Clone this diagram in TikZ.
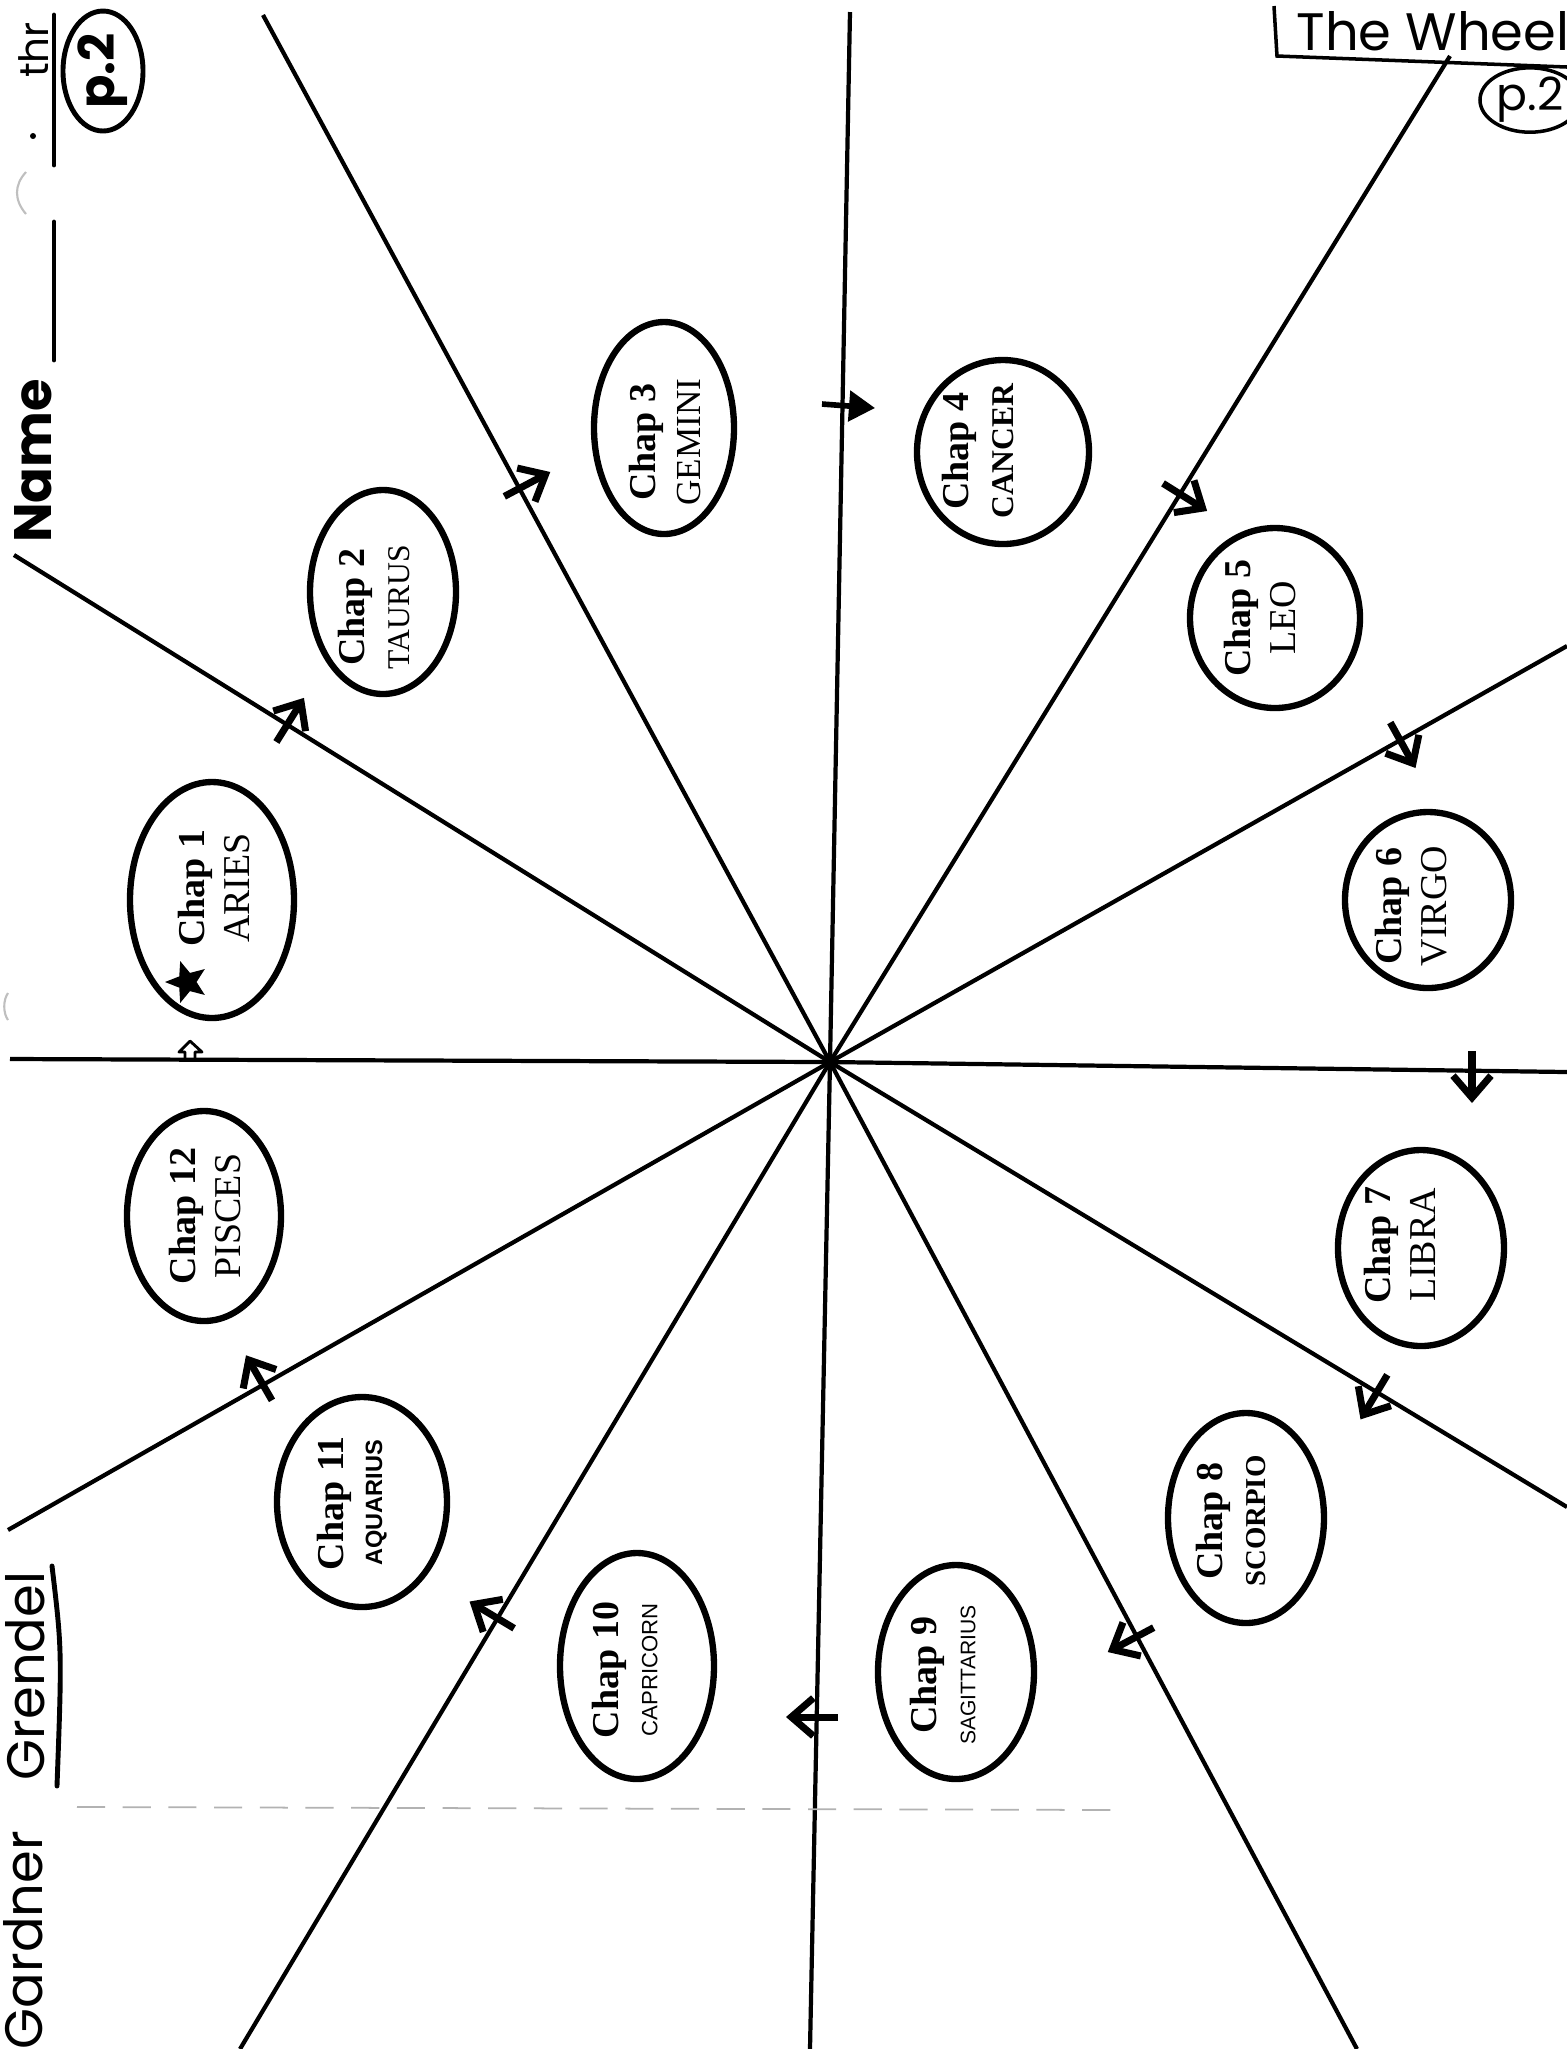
\documentclass[tikz,border=0pt]{standalone}
\usepackage{fontspec}
\setmainfont{Liberation Serif}
\newfontfamily\signsf{Liberation Sans}
\newfontfamily\hand{Poppins}
\usetikzlibrary{arrows.meta,shapes.geometric}

\begin{document}
\begin{tikzpicture}[
  x=0.1mm, y=-0.1mm,
  ray/.style={line width=1.2pt},
  sign/.style={draw, ellipse, line width=1.8pt, inner sep=0pt},
  lbl/.style={rotate=90, align=center, inner sep=0pt, font=\fontsize{10.8}{13}\selectfont},
  turn/.style={line width=2pt, -{Straight Barb[length=2.2mm, width=3.8mm]}},
  ink/.style={line width=1.4pt, line cap=round},
  scrawl/.style={inner sep=0pt, font=\hand\fontsize{15}{18}\selectfont}
]
\path[fill=white, use as bounding box] (0,0) rectangle (1567,2049);

% the wheel: twelve spokes from the hub
\coordinate (hub) at (830,1062);
\coordinate (b-pa) at (10,1059);
\coordinate (b-at) at (14,555);
\coordinate (b-tg) at (263,15);
\coordinate (b-gc) at (850,12);
\coordinate (b-cl) at (1450,56);
\coordinate (b-lv) at (1567,646);
\coordinate (b-vl) at (1567,1072);
\coordinate (b-ls) at (1567,1507);
\coordinate (b-ss) at (1357,2049);
\coordinate (b-sc) at (810,2049);
\coordinate (b-ca) at (240,2049);
\coordinate (b-ap) at (8,1530);
\foreach \b in {pa,at,tg,gc,cl,lv,vl,ls,ss,sc,ca,ap}
  \draw[ray] (hub) -- (b-\b);

% chapters
\node[sign, minimum width=16.4mm, minimum height=23.6mm] (aries) at (212,900) {};
\node[lbl] (aries-t) at (214,888) {\textbf{Chap 1}\\ARIES};
\node[star, star points=5, star point ratio=2.3, fill, inner sep=0pt, minimum size=4.4mm, rotate=90] (aries-star) at (187,982) {};

\node[sign, minimum width=14.6mm, minimum height=20.4mm] (taurus) at (383,592) {};
\node[lbl] (taurus-t) at (374,607) {\textbf{Chap 2}\\{\fontsize{9}{13}\selectfont TAURUS}};

\node[sign, minimum width=14mm, minimum height=21.2mm] (gemini) at (664,428) {};
\node[lbl] (gemini-t) at (665,442) {\textbf{Chap 3}\\{\fontsize{10}{13}\selectfont GEMINI}};

\node[sign, minimum width=17.2mm, minimum height=18.4mm] (cancer) at (1003,452) {};
\node[lbl] (cancer-t) at (978,451) {\textbf{Chap 4}\\{\bfseries\fontsize{9}{13}\selectfont CANCER}};

\node[sign, minimum width=17mm, minimum height=18mm] (leo) at (1275,618) {};
\node[lbl] (leo-t) at (1260,618) {\textbf{Chap 5}\\LEO};

\node[sign, minimum width=16.6mm, minimum height=17.6mm] (virgo) at (1428,900) {};
\node[lbl] (virgo-t) at (1411,906) {\textbf{Chap 6}\\VIRGO};

\node[sign, minimum width=16.6mm, minimum height=19.6mm] (libra) at (1421,1248) {};
\node[lbl] (libra-t) at (1400,1245) {\textbf{Chap 7}\\LIBRA};

\node[sign, minimum width=15.6mm, minimum height=21mm] (scorpio) at (1246,1518) {};
\node[lbl] (scorpio-t) at (1231,1521) {\textbf{Chap 8}\\[-1pt]{\bfseries\fontsize{8.2}{13}\selectfont SCORPIO}};

\node[sign, minimum width=15.6mm, minimum height=21.4mm] (sagittarius) at (956,1672) {};
\node[lbl] (sagittarius-t) at (943,1675) {\textbf{Chap 9}\\[-2pt]{\signsf\fontsize{6}{13}\selectfont SAGITTARIUS}};

\node[sign, minimum width=15.4mm, minimum height=22.6mm] (capricorn) at (637,1666) {};
\node[lbl] (capricorn-t) at (625,1670) {\textbf{Chap 10}\\[-2pt]{\signsf\fontsize{6.3}{13}\selectfont CAPRICORN}};

\node[sign, minimum width=17mm, minimum height=21mm] (aquarius) at (362,1502) {};
\node[lbl] (aquarius-t) at (352,1503) {\textbf{Chap 11}\\[-2pt]{\signsf\bfseries\fontsize{6.7}{13}\selectfont AQUARIUS}};

\node[sign, minimum width=15.4mm, minimum height=21mm] (pisces) at (204,1216) {};
\node[lbl] (pisces-t) at (205,1216) {\textbf{Chap 12}\\PISCES};

% direction marks across the spokes
\foreach \x/\y/\d in {287/725/-58, 522/487/-28, 1180/494/32, 1400/740/61, 1472/1071/90,
                      1377/1392/121, 1136/1637/152, 818/1717/180, 497/1618/211, 262/1383/240}
  \draw[turn] (\x,\y) ++(\d+180:20) -- ++(\d:52);
\draw[line width=1.6pt, -{Triangle[length=2.6mm, width=3mm]}] (822,404) -- (875,408);
\draw[line width=0.8pt, line join=round] (185,1059) -- (185,1052) -- (179,1052) -- (190,1041)
  -- (202,1052) -- (195,1052) -- (195,1059);

% header, left
\node[scrawl, font=\hand\bfseries\fontsize{15}{18}\selectfont, rotate=90, anchor=base] (name) at (51,461) {Name};
\draw[ink] (54,15) -- (54,165);
\draw[ink] (54,222) -- (54,360);
\node[scrawl, font=\hand\fontsize{11.5}{14}\selectfont, rotate=90, anchor=base] (thr) at (48,50) {thr};
\fill (33,136) circle [radius=0.3mm];
\draw[gray!50, line width=0.6pt] (26,172) .. controls (14,185) and (14,200) .. (26,214);
\draw[gray!50, line width=0.6pt] (8,993) .. controls (3,1000) and (3,1013) .. (8,1020);
\node[scrawl, font=\hand\bfseries\fontsize{14}{16}\selectfont, draw, ellipse, line width=1.4pt, rotate=90,
      minimum width=12mm, minimum height=8mm] (page-l) at (103,71) {p.2};

% header, right
\node[scrawl, anchor=base west] (title) at (1296,50) {The Wheel};
\draw[line width=1pt] (1274,6) -- (1277,56) -- (1567,67);
\node[scrawl, font=\hand\fontsize{13}{16}\selectfont, draw, ellipse, line width=1pt,
      minimum width=10mm, minimum height=6.2mm] (page-r) at (1530,100) {p.2};

% names, bottom left
\node[scrawl, font=\hand\fontsize{15}{18}\selectfont, rotate=90, anchor=base] (grendel) at (44,1676) {Grendel};
\draw[ink] (52,1566) .. controls (62,1650) .. (57,1786);
\node[scrawl, font=\hand\fontsize{15}{18}\selectfont, rotate=90, anchor=base] (gardner) at (42,1940) {Gardner};

% faint fold mark
\draw[gray!60, line width=0.5pt, dash pattern=on 8pt off 5pt] (77,1807) -- (1113,1810);
\end{tikzpicture}
\end{document}
